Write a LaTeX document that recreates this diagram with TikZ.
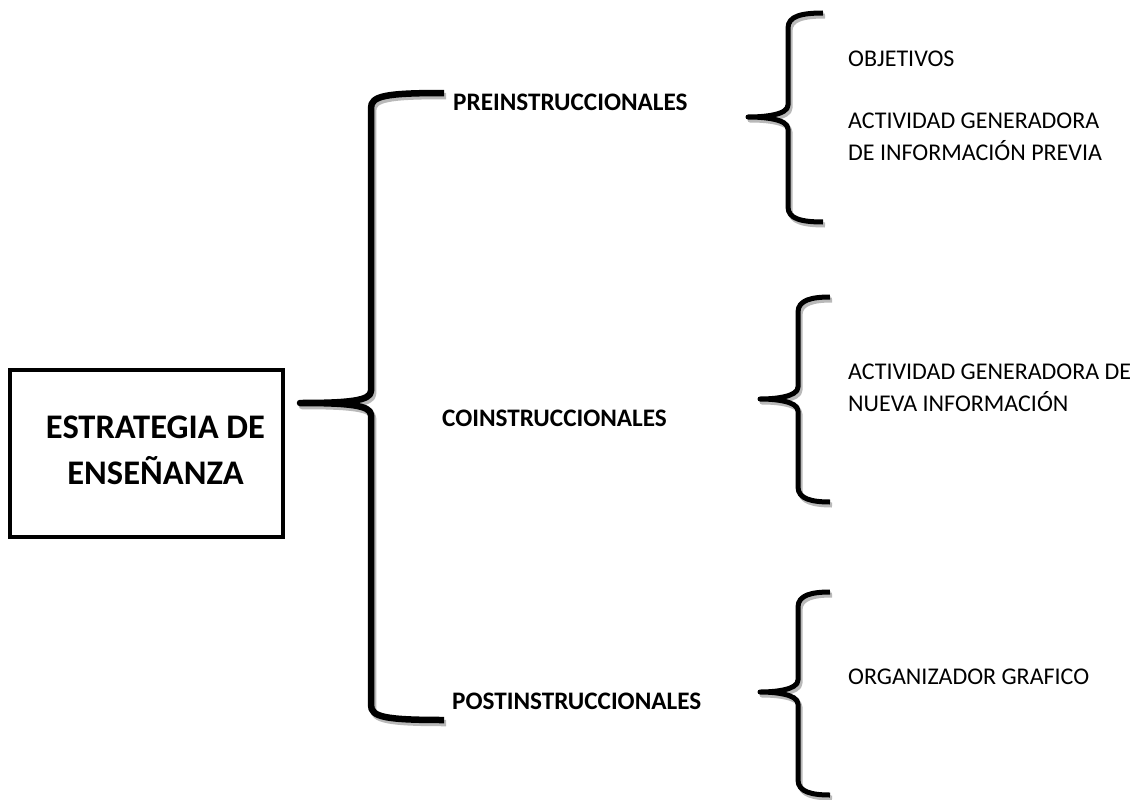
\documentclass[tikz,border=0pt]{standalone}
\usepackage{fontspec}
\setmainfont{Carlito}
%% llave: #1 grosor, #2 x vertical, #3 y arriba, #4 y punta, #5 y abajo, #6 x extremos, #7 x punta
\newcommand{\dibujallave}[7]{%
  \foreach \estilo in {sombra,llave}{%
    \draw[\estilo, line width=#1] (#6,#3) .. controls (#2+14,#3) and (#2,#3+3) .. (#2,#3+15)
      -- (#2,#4-12) .. controls (#2,#4-2) and (#2-24,#4) .. (#7,#4)
      .. controls (#2-24,#4) and (#2,#4+2) .. (#2,#4+12)
      -- (#2,#5-15) .. controls (#2,#5-3) and (#2+14,#5) .. (#6,#5);
  }}
\tikzset{
  llave/.style={black, line join=round},
  sombra/.style={gray!55, line join=round, shift={(2,3)}},
  caja/.style={draw, line width=4.5pt, minimum width=273pt, minimum height=167pt},
  titulo/.style={align=center, inner sep=0pt, font=\fontsize{34.5}{46}\selectfont\bfseries},
  fase/.style={anchor=west, inner sep=0pt, font=\fontsize{25.2}{30}\selectfont\bfseries},
  item/.style={anchor=west, inner sep=0pt, align=left, font=\fontsize{24}{32}\selectfont}
}
\begin{document}
\begin{tikzpicture}[x=1pt, y=-1pt]
        \useasboundingbox (0,0) rectangle (1143,800);
        %% caja principal
        \node[caja] (estrategia) at (146.5,453.5) {};
        \node[titulo] (texto) at (155.5,450) {ESTRATEGIA DE\\ENSEÑANZA};
        %% llave grande y fases
        \dibujallave{6.5pt}{371}{93}{403}{720}{444}{300}
        \node[fase] (pre) at (453,102) {PREINSTRUCCIONALES};
        \node[fase] (co) at (442,418) {COINSTRUCCIONALES};
        \node[fase] (post) at (452,701) {POSTINSTRUCCIONALES};
        %% llaves pequenas
        \dibujallave{5pt}{788}{13}{117}{222}{823}{748}
        \dibujallave{5pt}{798}{297}{399}{502}{830}{760}
        \dibujallave{5pt}{798}{592}{692}{795}{830}{760}
        %% contenidos
        \node[item] (objetivos) at (848,59) {OBJETIVOS};
        \node[item] (previa) at (848,137) {ACTIVIDAD GENERADORA\\DE INFORMACIÓN PREVIA};
        \node[item] (nueva) at (848,388) {ACTIVIDAD GENERADORA DE\\NUEVA INFORMACIÓN};
        \node[item] (organizador) at (848,677) {ORGANIZADOR GRAFICO};
    \end{tikzpicture}
\end{document}
